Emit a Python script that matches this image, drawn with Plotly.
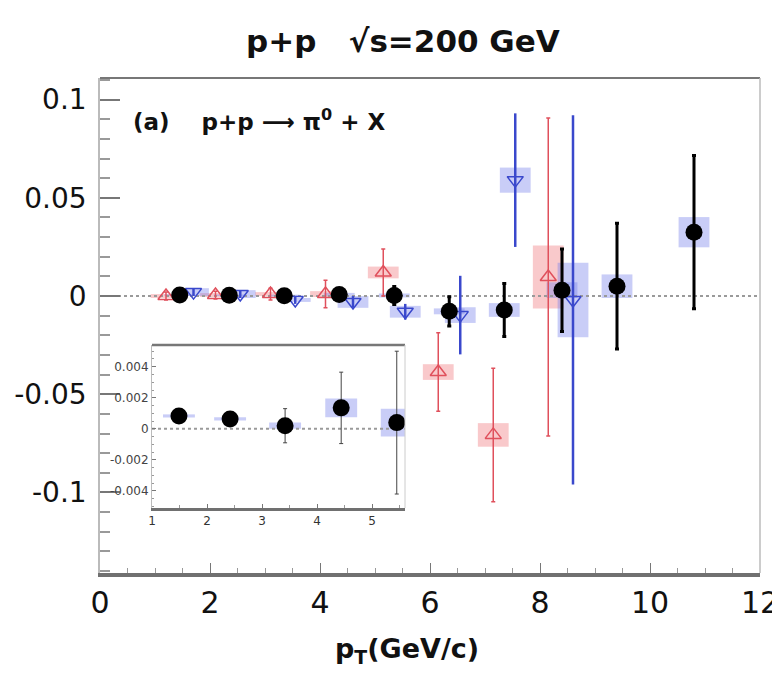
import plotly.graph_objects as go

# ---------------- data ----------------
black_x = [1.45, 2.35, 3.35, 4.35, 5.35, 6.35, 7.35, 8.4, 9.4, 10.8]
black_y = [0.0005, 0.0004, 0.0002, 0.0008, 0.0003, -0.0078, -0.0071, 0.0030, 0.0050, 0.0325]
black_err = [0.0010, 0.0010, 0.0011, 0.0023, 0.0046, 0.0075, 0.0135, 0.021, 0.032, 0.039]
black_sys = [0.0004, 0.0004, 0.0005, 0.0008, 0.0010, 0.0015, 0.0035, 0.004, 0.006, 0.0077]

red_x = [1.2, 2.1, 3.1, 4.1, 5.15, 6.15, 7.15, 8.15]
red_y = [0.0, 0.0005, 0.001, 0.001, 0.012, -0.0387, -0.0707, 0.0097]
red_err = [0.002, 0.002, 0.003, 0.007, 0.012, 0.020, 0.034, 0.081]
red_sys = [0.001, 0.001, 0.001, 0.0015, 0.003, 0.004, 0.006, 0.016]

blue_x = [1.7, 2.55, 3.55, 4.6, 5.55, 6.55, 7.55, 8.6]
blue_y = [0.002, 0.001, -0.002, -0.003, -0.008, -0.0097, 0.059, -0.002]
blue_err = [0.002, 0.002, 0.002, 0.003, 0.004, 0.020, 0.034, 0.094]
blue_sys = [0.002, 0.002, 0.001, 0.003, 0.003, 0.004, 0.0064, 0.019]

inset_x = [1.49, 2.42, 3.42, 4.44, 5.45]
inset_y = [0.00083, 0.00064, 0.0002, 0.00135, 0.0004]
inset_err = [0.0002, 0.0002, 0.0011, 0.0023, 0.0046]
inset_sys = [0.0001, 0.0001, 0.0002, 0.0006, 0.0009]

main_yticks = [0.1, 0.05, 0, -0.05, -0.1]
main_yticklabels = ["0.1", "0.05", "0", "-0.05", "-0.1"]
main_xticks = [0, 2, 4, 6, 8, 10, 12]
inset_yticks = [0.004, 0.002, 0, -0.002, -0.004]
inset_yticklabels = ["0.004", "0.002", "0", "-0.002", "-0.004"]
inset_xticks = [1, 2, 3, 4, 5]

BOX_HW = 0.28
FONT = "DejaVu Sans, Liberation Sans, Arial, sans-serif"

RED = "#e0505c"
BLUE = "#3a48cc"
RED_BOX = "rgba(240,120,125,0.40)"
BLUE_BOX = "rgba(120,130,235,0.40)"

# page body adds an 8px margin; the figure is sized/offset to compensate
PAGE_OFF = 8
PLOT_L, PLOT_R, PLOT_T, PLOT_B = 100, 760, 78, 573   # target plot box in window pixels
PW, PH = PLOT_R - PLOT_L, PLOT_B - PLOT_T

def px_x(px):
    return (px - PLOT_L) / PW

def px_y(py):
    return (PLOT_B - py) / PH

fig = go.Figure()

shapes = []
def add_boxes(xs, ys, ss, color, xref, yref, hw):
    for x, y, s in zip(xs, ys, ss):
        shapes.append(dict(type="rect", xref=xref, yref=yref,
                           x0=x - hw, x1=x + hw, y0=y - s, y1=y + s,
                           fillcolor=color, line=dict(width=0), layer="below"))

add_boxes(red_x, red_y, red_sys, RED_BOX, "x", "y", BOX_HW)
add_boxes(blue_x, blue_y, blue_sys, BLUE_BOX, "x", "y", BOX_HW)
add_boxes(black_x, black_y, black_sys, BLUE_BOX, "x", "y", BOX_HW)
add_boxes(inset_x, inset_y, inset_sys, BLUE_BOX, "x2", "y2", 0.29)

# zero reference lines
shapes.append(dict(type="line", xref="x", yref="y", x0=0, x1=12, y0=0, y1=0,
                   line=dict(color="#9a9a9a", width=2, dash="dot"), layer="below"))
shapes.append(dict(type="line", xref="x2", yref="y2", x0=1, x1=5.6, y0=0, y1=0,
                   line=dict(color="#9a9a9a", width=2, dash="dot"), layer="below"))

# red open up-triangles
fig.add_trace(go.Scatter(
    x=red_x, y=red_y, mode="markers",
    marker=dict(symbol="triangle-up-open", size=14, color=RED, line=dict(width=1.5, color=RED)),
    error_y=dict(type="data", array=red_err, color=RED, thickness=1.5, width=2),
    showlegend=False, xaxis="x", yaxis="y"))

# blue open down-triangles
fig.add_trace(go.Scatter(
    x=blue_x, y=blue_y, mode="markers",
    marker=dict(symbol="triangle-down-open", size=14, color=BLUE, line=dict(width=1.5, color=BLUE)),
    error_y=dict(type="data", array=blue_err, color=BLUE, thickness=2.5, width=0),
    showlegend=False, xaxis="x", yaxis="y"))

# black filled circles
fig.add_trace(go.Scatter(
    x=black_x, y=black_y, mode="markers",
    marker=dict(symbol="circle", size=17, color="black"),
    error_y=dict(type="data", array=black_err, color="black", thickness=3, width=2),
    showlegend=False, xaxis="x", yaxis="y"))

# inset
fig.add_trace(go.Scatter(
    x=inset_x, y=inset_y, mode="markers",
    marker=dict(symbol="circle", size=17, color="black"),
    error_y=dict(type="data", array=inset_err, color="#444", thickness=1, width=2),
    showlegend=False, xaxis="x2", yaxis="y2"))

IN_L, IN_R, IN_T, IN_B = 152, 405, 345, 508
in_dx = [px_x(IN_L), px_x(IN_R)]
in_dy = [px_y(IN_B), px_y(IN_T)]

fig.update_layout(
    width=780 - PAGE_OFF, height=677 - 2 * PAGE_OFF,
    margin=dict(l=PLOT_L - PAGE_OFF, r=780 - PLOT_R, t=PLOT_T - PAGE_OFF,
                b=677 - PLOT_B - PAGE_OFF),
    paper_bgcolor="white", plot_bgcolor="white",
    font=dict(family=FONT, color="#222"),
    shapes=shapes,
    xaxis=dict(range=[0, 12], domain=[0, 1], tickvals=main_xticks, automargin=False,
               ticks="inside", ticklen=10, tickwidth=1, tickcolor="#777",
               minor=dict(dtick=0.5, ticks="inside", ticklen=5, tickcolor="#999"),
               showline=True, linewidth=4, linecolor="#707070", mirror=False,
               showgrid=False, zeroline=False,
               tickfont=dict(size=30, color="#111")),
    yaxis=dict(range=[-0.141, 0.111], domain=[0, 1], tickvals=main_yticks, automargin=False,
               ticktext=main_yticklabels, ticklabelstandoff=6,
               ticks="inside", ticklen=20, tickwidth=2, tickcolor="#777",
               minor=dict(dtick=0.01, ticks="inside", ticklen=10, tickcolor="#999", tickwidth=2),
               showline=True, linewidth=1.5, linecolor="#bbb",
               showgrid=False, zeroline=False,
               tickfont=dict(size=28, color="#111")),
    xaxis2=dict(range=[1, 5.6], domain=in_dx, anchor="y2", automargin=False,
                tickvals=inset_xticks, ticks="inside", ticklen=4, tickcolor="#777",
                minor=dict(dtick=0.5, ticks="inside", ticklen=3, tickcolor="#999"),
                showline=True, linewidth=2.5, linecolor="#707070",
                showgrid=False, zeroline=False,
                tickfont=dict(size=12, color="#333")),
    yaxis2=dict(range=[-0.0051, 0.0054], domain=in_dy, anchor="x2", automargin=False,
                tickvals=inset_yticks, ticktext=inset_yticklabels,
                ticks="inside", ticklen=4, tickcolor="#777",
                minor=dict(dtick=0.0005, ticks="inside", ticklen=2, tickcolor="#999"),
                showline=True, linewidth=1, linecolor="#bbb",
                showgrid=False, zeroline=False,
                tickfont=dict(size=12, color="#444")),
)

# frame lines (top / right of main, top / right of inset)
fig.add_shape(type="line", xref="paper", yref="paper", x0=0, x1=1, y0=1, y1=1,
              line=dict(color="#777", width=2))
fig.add_shape(type="line", xref="paper", yref="paper", x0=1, x1=1, y0=0, y1=1,
              line=dict(color="#bbb", width=1.5))
fig.add_shape(type="line", xref="paper", yref="paper", x0=in_dx[0], x1=in_dx[1], y0=in_dy[1], y1=in_dy[1],
              line=dict(color="#777", width=2.5))
fig.add_shape(type="line", xref="paper", yref="paper", x0=in_dx[1], x1=in_dx[1], y0=in_dy[0], y1=in_dy[1],
              line=dict(color="#ccc", width=1))

fig.add_annotation(text="<b>p+p   √s=200 GeV</b>", xref="paper", yref="paper",
                   x=px_x(403), y=px_y(41), xanchor="center", yanchor="middle",
                   showarrow=False, font=dict(size=31, color="#111", family=FONT))
fig.add_annotation(text="<b>(a)    p+p ⟶ π<sup>0</sup> + X</b>", xref="paper", yref="paper",
                   x=px_x(131), y=px_y(120), xanchor="left", yanchor="middle",
                   showarrow=False, font=dict(size=23, color="#111", family=FONT))
fig.add_annotation(text="<b>p<sub>T</sub>(GeV/c)</b>", xref="paper", yref="paper",
                   x=px_x(407), y=px_y(650), xanchor="center", yanchor="middle",
                   showarrow=False, font=dict(size=27, color="#111", family=FONT))

fig.write_html("out.html")
